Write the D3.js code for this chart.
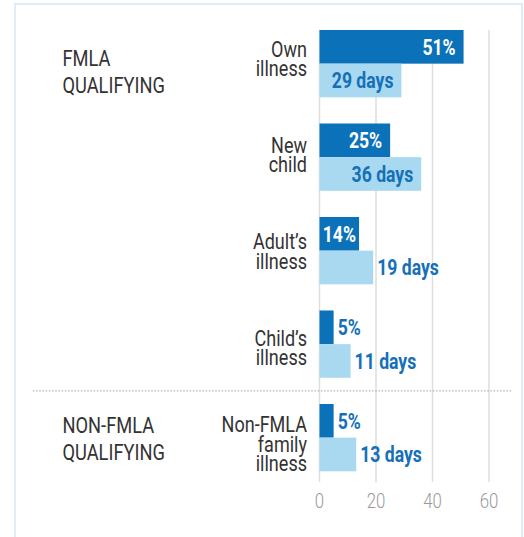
<!DOCTYPE html>
<html>
<head>
<meta charset="utf-8">
<script src="https://cdn.jsdelivr.net/npm/d3@7"></script>
<style>
  html, body { margin: 0; padding: 0; background: #fff; }
  svg { display: block; }
  text { font-family: Roboto, "Noto Sans", sans-serif; }
</style>
</head>
<body>
<svg id="svg" width="524" height="537"></svg>
<script>
// ---- data ----
const categories = ["Own illness", "New child", "Adult\u2019s illness", "Child\u2019s illness", "Non-FMLA family illness"];
const labelLines = [["Own", "illness"], ["New", "child"], ["Adult\u2019s", "illness"], ["Child\u2019s", "illness"], ["Non-FMLA", "family", "illness"]];
const shareValues = [51, 25, 14, 5, 5];     // % of leave takers
const daysValues = [29, 36, 19, 11, 13];    // average days
const sections = [
  { lines: ["FMLA", "QUALIFYING"], center: 72 },
  { lines: ["NON-FMLA", "QUALIFYING"], center: 439 }
];
const xTicks = [0, 20, 40, 60];

const dark = "#0b72ba", light = "#a8d9f1", blueText = "#1570b8", ink = "#333";
const squeeze = 0.84;   // fake a condensed face
const valSqueeze = 0.8;

const svg = d3.select("#svg");

// light blue frame (open at the bottom)
svg.append("path")
  .attr("d", "M15,537 V4 H522 V537")
  .attr("fill", "none")
  .attr("stroke", "#dcedf6")
  .attr("stroke-width", 2);

// scales
const x = d3.scaleLinear().domain([0, 60]).range([319.5, 489]);
const y = d3.scaleBand().domain(categories).range([30, 471.3]).paddingInner(0.28).paddingOuter(0);
const ySub = d3.scaleBand().domain(["share", "days"]).range([0, y.bandwidth()]);
// the row labels sit on a slightly looser rhythm than the bars
const yLabel = d3.scalePoint().domain(categories).range([58.5, 444.2]);

// grid
const grid = svg.append("g");
grid.selectAll("line")
  .data(xTicks)
  .join("line")
  .attr("x1", d => x(d)).attr("x2", d => x(d))
  .attr("y1", 30).attr("y2", 482)
  .attr("stroke", "#dedede")
  .attr("stroke-width", 1.5);

grid.selectAll("text")
  .data(xTicks)
  .join("text")
  .attr("transform", d => `translate(${x(d)},507.5) scale(${squeeze},1)`)
  .attr("text-anchor", "middle")
  .attr("font-size", "20px")
  .attr("font-weight", 300)
  .attr("fill", "#9a9a9a")
  .text(d => d);

// dotted separator between sections
const sepY = (y("Child\u2019s illness") + y.bandwidth() + y("Non-FMLA family illness")) / 2;
svg.append("line")
  .attr("x1", 33).attr("x2", 512)
  .attr("y1", sepY).attr("y2", sepY)
  .attr("stroke", "#a0a0a0")
  .attr("stroke-width", 1.2)
  .attr("stroke-dasharray", "1.2,2");

// bars
const rows = categories.map((c, i) => ({ cat: c, lines: labelLines[i], share: shareValues[i], days: daysValues[i] }));
const bars = [];
rows.forEach(r => {
  bars.push({ cat: r.cat, key: "share", value: r.share, label: r.share + "%" });
  bars.push({ cat: r.cat, key: "days", value: r.days, label: r.days + " days" });
});

svg.append("g").selectAll("rect")
  .data(bars)
  .join("rect")
  .attr("x", x(0))
  .attr("y", d => y(d.cat) + ySub(d.key))
  .attr("width", d => x(d.value) - x(0))
  .attr("height", ySub.bandwidth())
  .attr("fill", d => d.key === "share" ? dark : light);

// value labels: inside the bar if they fit, else just past its end
const vl = svg.append("g").selectAll("text")
  .data(bars)
  .join("text")
  .attr("font-size", "22px")
  .attr("font-weight", 700)
  .text(d => d.label);

vl.each(function(d) {
  const w = this.getComputedTextLength() * valSqueeze;
  const barW = x(d.value) - x(0);
  const cy = y(d.cat) + ySub(d.key) + ySub.bandwidth() / 2 + 8;
  const inside = w + 4 < barW;
  const pad = Math.min(8, (barW - w) / 2);
  const tx = inside ? x(d.value) - pad : x(d.value) + 4;
  d3.select(this)
    .attr("text-anchor", inside ? "end" : "start")
    .attr("transform", `translate(${tx},${cy}) scale(${valSqueeze},1)`)
    .attr("fill", inside && d.key === "share" ? "#fff" : blueText);
});

// category labels
const lh = 19.5, cap = 15.5;
svg.append("g").selectAll("text")
  .data(rows)
  .join("text")
  .attr("transform", d => {
    const b = yLabel(d.cat) - ((d.lines.length - 1) * lh - cap) / 2;
    return `translate(307,${b}) scale(0.82,1)`;
  })
  .attr("text-anchor", "end")
  .attr("font-size", "22px")
  .attr("fill", ink)
  .selectAll("tspan")
  .data(d => d.lines)
  .join("tspan")
  .attr("x", 0)
  .attr("dy", (d, i) => i ? lh : 0)
  .text(d => d);

// section labels
svg.append("g").selectAll("text")
  .data(sections)
  .join("text")
  .attr("transform", d => `translate(62.5,${d.center - (27 - 15) / 2}) scale(0.85,1)`)
  .attr("font-size", "21.5px")
  .attr("fill", ink)
  .selectAll("tspan")
  .data(d => d.lines)
  .join("tspan")
  .attr("x", 0)
  .attr("dy", (d, i) => i ? 27 : 0)
  .text(d => d);
</script>
</body>
</html>
